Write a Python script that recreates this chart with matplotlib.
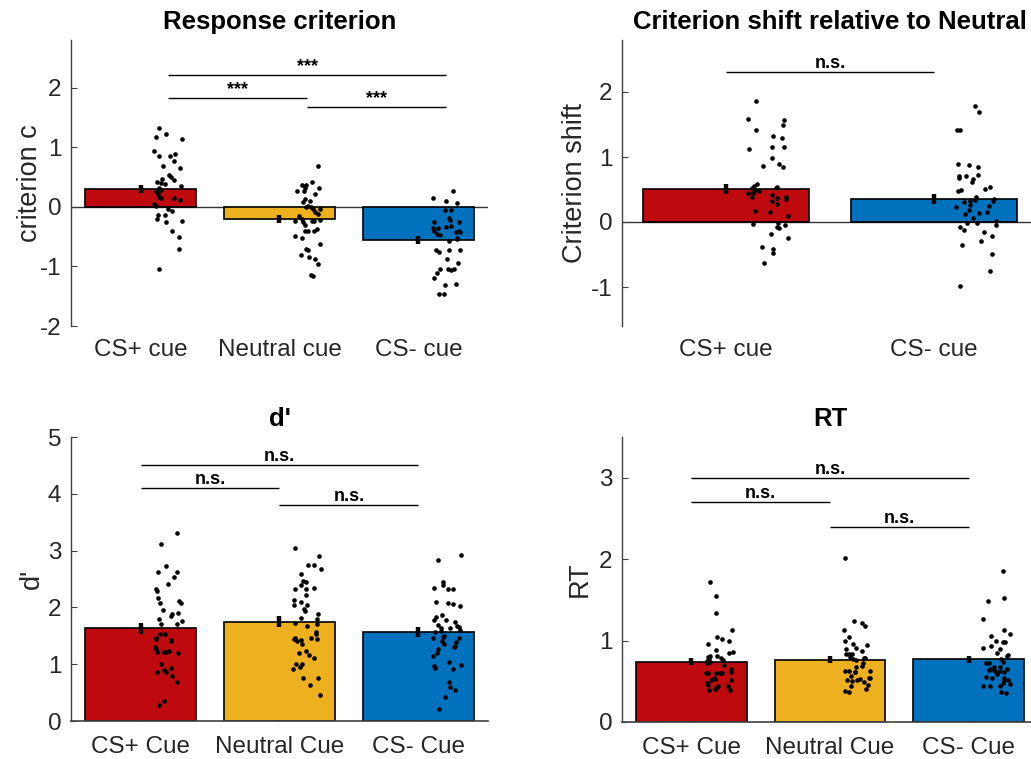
import matplotlib
matplotlib.use('Agg')
import matplotlib.pyplot as plt

# ---------------- data ----------------
crit_labels = ['CS+ cue', 'Neutral cue', 'CS- cue']
crit_means = [0.30, -0.21, -0.56]
crit_sems = [0.073, 0.065, 0.070]
crit_csp = [1.33, 1.17, 1.22, 1.14, 0.94, 0.86, 0.86, 0.89, 0.77, 0.69, 0.65, 0.54, 0.50, 0.45, 0.46, 0.41,
            0.40, 0.38, 0.35, 0.31, 0.29, 0.27, 0.26, 0.22, 0.17, 0.14, 0.14, 0.11, 0.05, 0.02, -0.03, -0.07,
            -0.13, -0.13, -0.20, -0.25, -0.23, -0.40, -0.50, -0.71, -1.04]
crit_csp_jit = [0.134, 0.110, 0.187, 0.297, 0.100, 0.132, 0.213, 0.249, 0.240, 0.163, 0.287, 0.208, 0.220,
                0.244, 0.153, 0.117, 0.151, 0.177, 0.290, 0.136, 0.144, 0.122, 0.108, 0.127, 0.136, 0.151,
                0.244, 0.283, 0.100, 0.110, 0.201, 0.225, 0.127, 0.175, 0.117, 0.184, 0.297, 0.230, 0.275,
                0.280, 0.132]
crit_neu = [0.69, 0.41, 0.36, 0.36, 0.32, 0.31, 0.26, 0.26, 0.21, 0.13, 0.08, 0.09, -0.01, 0.02, 0.00, -0.03,
            -0.08, -0.12, -0.03, -0.15, -0.21, -0.24, -0.25, -0.24, -0.24, -0.22, -0.30, -0.40, -0.41, -0.40,
            -0.38, -0.49, -0.53, -0.62, -0.71, -0.73, -0.81, -0.85, -0.87, -0.96, -1.14, -1.16]
crit_neu_jit = [0.275, 0.235, 0.163, 0.191, 0.285, 0.182, 0.129, 0.179, 0.256, 0.182, 0.167, 0.223, 0.191,
                0.208, 0.227, 0.242, 0.256, 0.280, 0.294, 0.143, 0.160, 0.112, 0.167, 0.232, 0.251, 0.292,
                0.187, 0.182, 0.208, 0.246, 0.268, 0.115, 0.163, 0.294, 0.189, 0.208, 0.153, 0.215, 0.256,
                0.275, 0.230, 0.242]
crit_csm = [0.26, 0.14, 0.09, 0.06, -0.06, -0.06, -0.18, -0.22, -0.26, -0.26, -0.32, -0.34, -0.35, -0.36,
            -0.40, -0.45, -0.48, -0.42, -0.41, -0.42, -0.52, -0.58, -0.54, -0.73, -0.76, -0.73, -0.73, -0.88,
            -0.95, -1.05, -1.04, -1.06, -1.05, -1.11, -1.19, -1.32, -1.29, -1.46, -1.46]
crit_csm_jit = [0.250, 0.104, 0.197, 0.279, 0.192, 0.233, 0.219, 0.226, 0.113, 0.293, 0.235, 0.195, 0.137,
                0.104, 0.113, 0.132, 0.154, 0.271, 0.288, 0.300, 0.279, 0.219, 0.276, 0.123, 0.151, 0.219,
                0.295, 0.204, 0.281, 0.156, 0.211, 0.235, 0.257, 0.135, 0.108, 0.192, 0.267, 0.144, 0.180]
crit_sig = [(1, 2, 1.82, '***'), (2, 3, 1.67, '***'), (1, 3, 2.21, '***')]

shift_labels = ['CS+ cue', 'CS- cue']
shift_means = [0.51, 0.35]
shift_sems = [0.077, 0.080]
shift_csp = [1.86, 1.58, 1.57, 1.50, 1.41, 1.33, 1.29, 1.13, 1.15, 1.15, 0.99, 0.86, 0.89, 0.85, 0.58, 0.56,
             0.53, 0.50, 0.47, 0.53, 0.54, 0.44, 0.44, 0.38, 0.41, 0.37, 0.38, 0.35, 0.33, 0.27, 0.17, 0.16,
             0.09, -0.03, -0.02, -0.04, -0.08, -0.09, -0.18, -0.25, -0.39, -0.42, -0.47, -0.63]
shift_csp_jit = [0.145, 0.106, 0.277, 0.276, 0.145, 0.228, 0.269, 0.111, 0.223, 0.281, 0.220, 0.177, 0.255,
                 0.274, 0.149, 0.135, 0.124, 0.141, 0.161, 0.239, 0.245, 0.106, 0.132, 0.126, 0.223, 0.244,
                 0.287, 0.290, 0.223, 0.247, 0.141, 0.213, 0.297, 0.130, 0.252, 0.285, 0.247, 0.253, 0.215,
                 0.298, 0.172, 0.225, 0.228, 0.183]
shift_csm = [1.78, 1.69, 1.42, 1.42, 0.90, 0.88, 0.85, 0.71, 0.67, 0.71, 0.66, 0.62, 0.72, 0.47, 0.49, 0.51,
             0.54, 0.39, 0.34, 0.32, 0.31, 0.35, 0.32, 0.23, 0.26, 0.25, 0.18, 0.13, 0.14, 0.16, 0.06, -0.02,
             -0.01, 0.02, -0.05, -0.07, -0.12, -0.15, -0.21, -0.29, -0.36, -0.49, -0.75, -0.99]
shift_csm_jit = [0.195, 0.216, 0.110, 0.123, 0.116, 0.168, 0.212, 0.118, 0.121, 0.155, 0.187, 0.184, 0.212,
                 0.113, 0.129, 0.246, 0.270, 0.200, 0.195, 0.172, 0.145, 0.288, 0.283, 0.104, 0.171, 0.264,
                 0.169, 0.147, 0.217, 0.254, 0.187, 0.158, 0.206, 0.296, 0.300, 0.124, 0.145, 0.240, 0.280,
                 0.225, 0.137, 0.280, 0.270, 0.126]
shift_sig = [(1, 2, 2.31, 'n.s.')]

dp_labels = ['CS+ Cue', 'Neutral Cue', 'CS- Cue']
dp_means = [1.63, 1.75, 1.56]
dp_sems = [0.097, 0.097, 0.088]
dp_csp = [3.31, 3.12, 2.73, 2.62, 2.63, 2.53, 2.41, 2.33, 2.29, 2.17, 2.07, 2.12, 2.08, 1.95, 1.91, 1.88,
          1.84, 1.80, 1.71, 1.70, 1.76, 1.53, 1.54, 1.44, 1.46, 1.42, 1.41, 1.30, 1.26, 1.21, 1.21, 1.21,
          1.23, 1.20, 1.01, 0.94, 0.89, 0.86, 0.86, 0.79, 0.69, 0.35, 0.28]
dp_csp_jit = [0.259, 0.151, 0.184, 0.127, 0.259, 0.244, 0.199, 0.110, 0.122, 0.124, 0.141, 0.275, 0.292,
              0.165, 0.268, 0.225, 0.216, 0.136, 0.144, 0.261, 0.297, 0.139, 0.177, 0.108, 0.115, 0.223,
              0.216, 0.103, 0.110, 0.122, 0.168, 0.180, 0.204, 0.271, 0.151, 0.223, 0.172, 0.184, 0.122,
              0.230, 0.261, 0.170, 0.136]
dp_neu = [3.04, 2.91, 2.75, 2.75, 2.68, 2.58, 2.47, 2.45, 2.39, 2.32, 2.32, 2.34, 2.21, 2.13, 2.05, 2.10,
          2.05, 1.98, 1.94, 1.88, 1.81, 1.79, 1.72, 1.68, 1.70, 1.57, 1.54, 1.47, 1.44, 1.46, 1.40, 1.43,
          1.35, 1.45, 1.24, 1.19, 1.17, 1.11, 1.01, 1.01, 0.95, 0.92, 0.76, 0.76, 0.63, 0.45]
dp_neu_jit = [0.110, 0.283, 0.208, 0.251, 0.295, 0.153, 0.167, 0.191, 0.158, 0.189, 0.115, 0.247, 0.191,
              0.105, 0.103, 0.158, 0.199, 0.175, 0.184, 0.280, 0.155, 0.271, 0.108, 0.199, 0.271, 0.263,
              0.259, 0.227, 0.103, 0.115, 0.127, 0.158, 0.160, 0.271, 0.191, 0.139, 0.211, 0.249, 0.117,
              0.160, 0.151, 0.098, 0.170, 0.280, 0.223, 0.292]
dp_csm = [2.92, 2.83, 2.45, 2.39, 2.35, 2.33, 2.32, 2.10, 2.08, 2.06, 2.02, 1.87, 1.83, 1.77, 1.78, 1.75,
          1.69, 1.68, 1.63, 1.64, 1.65, 1.57, 1.58, 1.60, 1.50, 1.48, 1.46, 1.46, 1.40, 1.35, 1.39, 1.32,
          1.30, 1.27, 1.19, 1.14, 1.04, 0.99, 0.97, 0.93, 0.91, 0.69, 0.59, 0.54, 0.43, 0.22]
dp_csm_jit = [0.303, 0.142, 0.175, 0.173, 0.111, 0.214, 0.250, 0.123, 0.209, 0.247, 0.298, 0.166, 0.125,
              0.111, 0.195, 0.262, 0.142, 0.276, 0.159, 0.228, 0.291, 0.120, 0.163, 0.298, 0.187, 0.175,
              0.104, 0.288, 0.166, 0.180, 0.267, 0.259, 0.252, 0.142, 0.135, 0.106, 0.219, 0.303, 0.108,
              0.118, 0.245, 0.221, 0.228, 0.259, 0.190, 0.144]
dp_sig = [(1, 2, 4.10, 'n.s.'), (2, 3, 3.80, 'n.s.'), (1, 3, 4.51, 'n.s.')]

rt_labels = ['CS+ Cue', 'Neutral Cue', 'CS- Cue']
rt_means = [0.74, 0.765, 0.77]
rt_sems = [0.043, 0.043, 0.043]
rt_csp = [1.72, 1.55, 1.34, 1.13, 1.04, 1.02, 1.00, 0.96, 0.88, 0.85, 0.86, 0.81, 0.81, 0.80, 0.79, 0.77,
          0.75, 0.74, 0.76, 0.70, 0.72, 0.65, 0.62, 0.60, 0.60, 0.60, 0.60, 0.60, 0.52, 0.54, 0.53, 0.52,
          0.48, 0.46, 0.44, 0.43, 0.44, 0.41, 0.39, 0.39]
rt_csp_jit = [0.132, 0.177, 0.180, 0.292, 0.184, 0.220, 0.271, 0.122, 0.177, 0.273, 0.297, 0.136, 0.184,
              0.120, 0.213, 0.127, 0.113, 0.136, 0.230, 0.237, 0.110, 0.283, 0.288, 0.108, 0.122, 0.175,
              0.204, 0.220, 0.141, 0.163, 0.172, 0.285, 0.110, 0.122, 0.192, 0.182, 0.261, 0.168, 0.127,
              0.276]
rt_neu = [2.02, 1.24, 1.22, 1.18, 1.13, 1.04, 1.00, 0.96, 0.94, 0.91, 0.90, 0.87, 0.83, 0.84, 0.83, 0.80,
          0.79, 0.77, 0.76, 0.78, 0.73, 0.69, 0.68, 0.63, 0.63, 0.62, 0.61, 0.63, 0.57, 0.54, 0.54, 0.52,
          0.50, 0.52, 0.53, 0.49, 0.46, 0.44, 0.40, 0.38, 0.37]
rt_neu_jit = [0.108, 0.172, 0.232, 0.251, 0.100, 0.139, 0.105, 0.167, 0.266, 0.191, 0.112, 0.232, 0.112,
              0.139, 0.158, 0.146, 0.244, 0.165, 0.187, 0.254, 0.239, 0.232, 0.189, 0.110, 0.139, 0.177,
              0.182, 0.287, 0.148, 0.278, 0.292, 0.119, 0.158, 0.196, 0.215, 0.244, 0.271, 0.155, 0.263,
              0.110, 0.139]
rt_csm = [1.85, 1.52, 1.49, 1.27, 1.13, 1.08, 1.06, 1.00, 0.98, 0.98, 0.93, 0.91, 0.90, 0.85, 0.81, 0.82,
          0.77, 0.74, 0.72, 0.72, 0.68, 0.67, 0.65, 0.64, 0.64, 0.65, 0.62, 0.63, 0.61, 0.55, 0.54, 0.59,
          0.54, 0.52, 0.52, 0.47, 0.44, 0.44, 0.44, 0.37, 0.36, 0.48]
rt_csm_jit = [0.247, 0.255, 0.137, 0.106, 0.257, 0.300, 0.163, 0.197, 0.250, 0.262, 0.161, 0.106, 0.223,
              0.207, 0.274, 0.281, 0.235, 0.247, 0.127, 0.147, 0.180, 0.223, 0.154, 0.147, 0.183, 0.274,
              0.199, 0.223, 0.255, 0.125, 0.166, 0.202, 0.257, 0.252, 0.286, 0.300, 0.106, 0.151, 0.228,
              0.235, 0.271, 0.245]
rt_sig = [(1, 2, 2.70, 'n.s.'), (2, 3, 2.40, 'n.s.'), (1, 3, 3.00, 'n.s.')]

# ---------------- style ----------------
plt.rcParams['font.family'] = ['Liberation Sans', 'DejaVu Sans']
plt.rcParams['axes.unicode_minus'] = False

RED = '#BE0A0F'
YEL = '#EDB120'
BLU = '#0072BD'
AXC = '#404040'
TXT = '#262626'
TICK_FS = 17.5
LABEL_FS = 19.5
TITLE_FS = 18.5
SIG_FS = 13

W, H = 1031, 759
fig = plt.figure(figsize=(W / 100, H / 100), dpi=100)
fig.patch.set_facecolor('white')


def px_axes(left, top, right, bottom):
    return fig.add_axes([left / W, 1 - bottom / H, (right - left) / W, (bottom - top) / H])


def panel(ax, labels, means, sems, groups, colors, ylim, yticks, ylabel, title,
          sigs, sig_shift, top_row, ylabel_x):
    xs = list(range(1, len(labels) + 1))
    ax.bar(xs, means, width=0.8, color=colors, edgecolor='black', linewidth=1.2, zorder=2)
    if top_row:
        ax.axhline(0, color='#333333', lw=1.0, zorder=1)
    ax.errorbar(xs, means, yerr=sems, fmt='none', ecolor='black', elinewidth=3.2,
                capsize=0, zorder=3)
    for x, (vals, jit) in zip(xs, groups):
        ax.scatter([x + j for j in jit], vals, s=11, color='black', linewidths=0, zorder=4)
    for (i, j, yl, lab) in sigs:
        x1, x2 = i + sig_shift, j + sig_shift
        ax.plot([x1, x2], [yl, yl], color='black', lw=1.0, zorder=5, solid_capstyle='butt')
        ax.text((x1 + x2) / 2, yl, lab, ha='center', va='bottom', fontsize=SIG_FS,
                fontweight='bold', color='black')
    ax.set_xlim(0.5, len(labels) + 0.5)
    ax.set_ylim(*ylim)
    ax.set_yticks(yticks)
    ax.set_yticklabels([str(t) for t in yticks])
    ax.set_xticks(xs)
    ax.set_xticklabels(labels)
    for s in ['top', 'right']:
        ax.spines[s].set_visible(False)
    ax.spines['left'].set_color(AXC)
    ax.spines['left'].set_linewidth(1.0)
    if top_row:
        ax.spines['bottom'].set_visible(False)
        ax.tick_params(axis='x', length=0, pad=9)
    else:
        ax.spines['bottom'].set_color(AXC)
        ax.spines['bottom'].set_linewidth(1.2)
        ax.tick_params(axis='x', direction='in', length=4, color=AXC, pad=11)
    ax.tick_params(axis='y', direction='in', length=4, color=AXC, pad=7)
    ax.tick_params(labelsize=TICK_FS, labelcolor=TXT)
    ax.set_ylabel(ylabel, fontsize=LABEL_FS, color=TXT)
    ax.yaxis.set_label_coords(ylabel_x, 0.5)
    ax.set_title(title, fontsize=TITLE_FS, fontweight='bold', pad=8, color='black')


ax1 = px_axes(71, 40, 488, 326)
panel(ax1, crit_labels, crit_means, crit_sems,
      [(crit_csp, crit_csp_jit), (crit_neu, crit_neu_jit), (crit_csm, crit_csm_jit)],
      [RED, YEL, BLU], (-2, 2.8), [-2, -1, 0, 1, 2], 'criterion c', 'Response criterion',
      crit_sig, 0.2, True, -0.068)

ax2 = px_axes(622, 40, 1038, 326)
panel(ax2, shift_labels, shift_means, shift_sems,
      [(shift_csp, shift_csp_jit), (shift_csm, shift_csm_jit)],
      [RED, BLU], (-1.6, 2.8), [-1, 0, 1, 2], 'Criterion shift', 'Criterion shift relative to Neutral',
      shift_sig, 0.0, True, -0.082)

ax3 = px_axes(71, 437, 488, 721)
panel(ax3, dp_labels, dp_means, dp_sems,
      [(dp_csp, dp_csp_jit), (dp_neu, dp_neu_jit), (dp_csm, dp_csm_jit)],
      [RED, YEL, BLU], (0, 5), [0, 1, 2, 3, 4, 5], "d'", "d'",
      dp_sig, 0.0, False, -0.062)

ax4 = px_axes(622, 437, 1038, 722)
panel(ax4, rt_labels, rt_means, rt_sems,
      [(rt_csp, rt_csp_jit), (rt_neu, rt_neu_jit), (rt_csm, rt_csm_jit)],
      [RED, YEL, BLU], (0, 3.5), [0, 1, 2, 3], 'RT', 'RT',
      rt_sig, 0.0, False, -0.07)

fig.savefig('out.png', dpi=100, facecolor='white')
